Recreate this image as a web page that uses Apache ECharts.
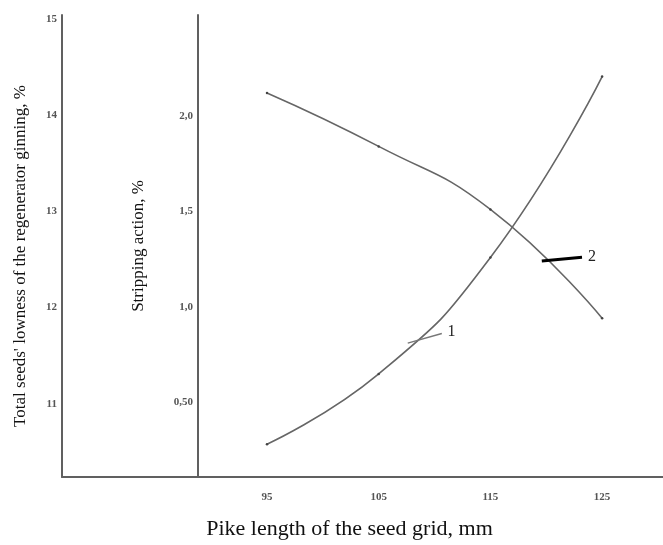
<!DOCTYPE html>
<html>
<head>
<meta charset="utf-8">
<script src="https://cdn.jsdelivr.net/npm/echarts@6/dist/echarts.min.js"></script>
<style>html,body{margin:0;padding:0;background:#fff}#c{width:663px;height:545px}</style>
</head>
<body>
<div id="c"></div>
<script>
// Data
const pikeLength = [95, 105, 115, 125];               // x, mm
const seedsLowness = [10.58, 11.31, 12.52, 14.40];     // curve 1, left axis, %
const strippingAction = [2.12, 1.84, 1.51, 0.94];      // curve 2, stripping axis, %
const xTicks = [95, 105, 115, 125];
const lownessTicks = [11, 12, 13, 14, 15];
const strippingTicks = [0.5, 1.0, 1.5, 2.0];

const serif = '"Liberation Serif", "DejaVu Serif", serif';
const axisCol = '#606060';
const labelStyle = { fontFamily: serif, fontSize: 11, fontWeight: 'bold', color: '#555' };

const chart = echarts.init(document.getElementById('c'), null, { renderer: 'canvas' });
chart.setOption({
  animation: false,
  backgroundColor: '#fff',
  grid: { left: 62, right: 0, top: 15, bottom: 62 },
  xAxis: {
    type: 'value', min: 76.65, max: 130.45,
    axisLine: { show: true, onZero: false, lineStyle: { color: axisCol, width: 2 } },
    axisTick: { show: false }, splitLine: { show: false },
    axisLabel: Object.assign({ customValues: xTicks, margin: 15 }, labelStyle),
    name: 'Pike length of the seed grid, mm', nameLocation: 'middle', nameGap: 41,
    nameTextStyle: { fontFamily: serif, fontSize: 22, color: '#111', padding: [0, 26, 0, 0] }
  },
  yAxis: [
    {
      type: 'value', position: 'left', min: 10.239, max: 15.04,
      axisLine: { show: true, lineStyle: { color: axisCol, width: 2 } },
      axisTick: { show: false }, splitLine: { show: false },
      axisLabel: Object.assign({ customValues: lownessTicks, margin: 5 }, labelStyle),
      name: "Total seeds' lowness of the regenerator ginning, %", nameLocation: 'middle', nameGap: 33,
      nameRotate: 90,
      nameTextStyle: { fontFamily: serif, fontSize: 17, color: '#111', padding: [0, 20, 0, 0] }
    },
    {
      type: 'value', position: 'left', offset: -136, min: 0.109, max: 2.528,
      axisLine: { show: true, lineStyle: { color: axisCol, width: 2 } },
      axisTick: { show: false }, splitLine: { show: false },
      axisLabel: Object.assign({
        customValues: strippingTicks, margin: 5,
        formatter: v => (v === 0.5 ? '0,50' : v.toFixed(1).replace('.', ','))
      }, labelStyle),
      name: 'Stripping action, %', nameLocation: 'middle', nameGap: 51, nameRotate: 90,
      nameTextStyle: { fontFamily: serif, fontSize: 17, color: '#111' }
    }
  ],
  series: [
    {
      name: '1', type: 'line', yAxisIndex: 0, smooth: true,
      data: pikeLength.map((x, i) => [x, seedsLowness[i]]),
      symbol: 'circle', symbolSize: 2.5,
      itemStyle: { color: '#444' }, lineStyle: { color: '#666', width: 1.6 },
      markLine: {
        silent: true, symbol: 'none',
        lineStyle: { color: '#777', width: 1.4, type: 'solid' },
        label: { show: true, position: 'end', formatter: '1', fontFamily: serif, fontSize: 16, color: '#222', distance: 6 },
        data: [[{ coord: [107.6, 11.63] }, { coord: [110.65, 11.73] }]]
      }
    },
    {
      name: '2', type: 'line', yAxisIndex: 1, smooth: true,
      data: pikeLength.map((x, i) => [x, strippingAction[i]]),
      symbol: 'circle', symbolSize: 2.5,
      itemStyle: { color: '#444' }, lineStyle: { color: '#666', width: 1.6 },
      markLine: {
        silent: true, symbol: 'none',
        lineStyle: { color: '#000', width: 3, type: 'solid' },
        label: { show: true, position: 'end', formatter: '2', fontFamily: serif, fontSize: 16, color: '#222', distance: 6 },
        data: [[{ coord: [119.6, 1.24] }, { coord: [123.2, 1.26] }]]
      }
    }
  ]
});
</script>
</body>
</html>
